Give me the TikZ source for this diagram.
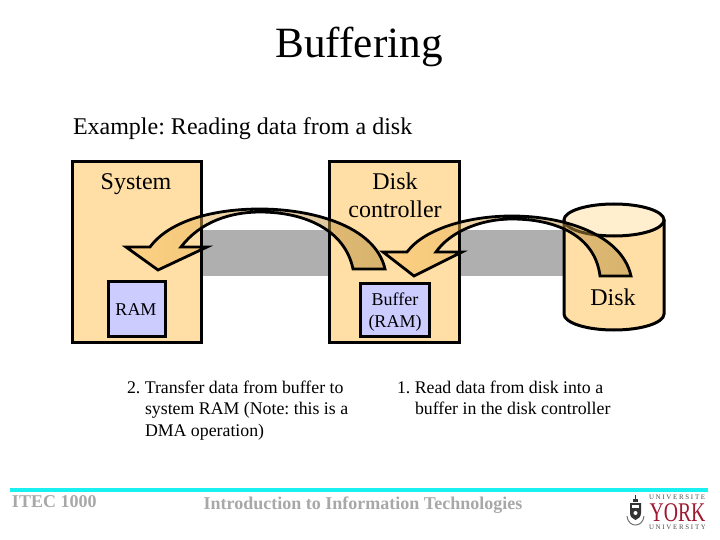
\documentclass[tikz,border=0pt]{standalone}
\usepackage{fontspec}
\setmainfont{Liberation Serif}
\frenchspacing
\definecolor{boxfill}{HTML}{FFDFA6}
\definecolor{ramfill}{HTML}{CCCCFF}
\definecolor{band}{HTML}{AFAFAF}
\definecolor{disktop}{HTML}{FFEFCF}
\definecolor{barcol}{HTML}{19F0F0}
\definecolor{foot}{HTML}{A8A8A8}
\definecolor{yorkred}{HTML}{A01830}
\definecolor{arrowL}{HTML}{FFC460}
\definecolor{arrowR}{HTML}{B08838}
\newcommand{\fs}[1]{\fontsize{#1}{#1}\selectfont}
\tikzset{
  unit/.style={draw=black,line width=3pt,fill=boxfill},
  mem/.style={draw=black,line width=3pt,fill=ramfill},
  txt/.style={inner sep=0pt,outer sep=0pt,anchor=base,font=\fs{24}},
  txtl/.style={inner sep=0pt,outer sep=0pt,anchor=base west,font=\fs{17.8}},
  small/.style={inner sep=0pt,outer sep=0pt,anchor=base,font=\fs{18}},
  footer/.style={inner sep=0pt,outer sep=0pt,anchor=base,text=foot,font=\bfseries\fs{18}},
  logotxt/.style={inner sep=0pt,outer sep=0pt,anchor=base west,font=\fs{6.9},text=black!70},
  flow/.style={draw=black,line width=2.8pt,line join=miter,left color=arrowL,right color=arrowR,fill opacity=.5},
}
\begin{document}
\begin{tikzpicture}[x=1pt,y=-1pt]
\useasboundingbox (0,0) rectangle (720,540);
\fill[white] (0,0) rectangle (720,540);
% bands
\fill[band] (202,230) rectangle (329,276);
\fill[band] (460,230) rectangle (564,276);
% units
\draw[unit] (72,161.5) rectangle (201.5,342);
\draw[unit] (329,161.5) rectangle (459.5,342);
\draw[mem] (108,281.5) rectangle (165.5,336);
\draw[mem] (360,283.5) rectangle (429.5,336);
% disk
\draw[unit] (564,220) -- (564,314) arc[start angle=180,end angle=360,x radius=50,y radius=-16] -- (664,220);
\draw[draw=black,line width=3pt,fill=disktop] (614,220) ellipse[x radius=50,y radius=16];
% texts
\node[txt,font=\fs{43.2}] (title) at (359,58) {Buffering};
\node[txt,anchor=base west] (sub) at (73,135) {Example: Reading data from a disk};
\node[txt] (sys) at (136,190) {System};
\node[txt] (dc1) at (395,190) {Disk};
\node[txt] (dc2) at (395,218) {controller};
\node[small] (ram) at (136,315) {RAM};
\node[small] (buf1) at (395,305) {Buffer};
\node[small] (buf2) at (395,327) {(RAM)};
\node[txt] (disk) at (613,305) {Disk};
\node[txtl] (c1) at (127,393) {2. Transfer data from buffer to};
\node[txtl] (c2) at (145,414) {system RAM (Note: this is a};
\node[txtl] (c3) at (145,436) {DMA operation)};
\node[txtl] (d1) at (397,393) {1. Read data from disk into a};
\node[txtl] (d2) at (415,414) {buffer in the disk controller};
% arrows
\draw[flow] (631,276) .. controls (622,235) and (565,216) .. (512,216)
  .. controls (470,216) and (425,228) .. (407,252)
  -- (383,252) -- (414,276) -- (462,252) -- (436,252)
  .. controls (450,232) and (480,219) .. (512,219)
  .. controls (555,219) and (595,235) .. (600,276) -- cycle;
\draw[flow] (385,269) .. controls (375,225) and (310,209) .. (260,209)
  .. controls (215,209) and (170,220) .. (150,247)
  -- (126,247) -- (158,270) -- (207,247) -- (181,247)
  .. controls (200,222) and (230,212) .. (260,212)
  .. controls (305,212) and (345,230) .. (353,269) -- cycle;
% footer
\fill[barcol] (10,488) rectangle (708,492);
\node[footer,anchor=base west] (f1) at (12,507) {ITEC 1000};
\node[footer] (f2) at (363,509) {Introduction to Information Technologies};
% logo
\node[logotxt] (u1) at (649,499.5) {U N I V E R S I T E};
\node[inner sep=0pt,anchor=base,font=\fs{27},text=yorkred,xscale=.73] (york) at (677.5,521) {YORK};
\node[logotxt] (u2) at (649,529) {U N I V E R S I T Y};
% crest
\fill[black!80] (630,503) -- (641,503) -- (641,513) .. controls (641,517) and (638,519) .. (635.5,520) .. controls (633,519) and (630,517) .. (630,513) -- cycle;
\fill[white] (632,505) rectangle (639,508);
\fill[white] (635.5,513) circle[radius=2];
\fill[black!80] (633,499) rectangle (638,502);
\fill[black!80] (634.8,495) rectangle (636.2,499);
\draw[black!55,line width=1pt] (627,516) .. controls (628,523) and (632,525) .. (635.5,525) .. controls (639,525) and (643,523) .. (644,516);
\end{tikzpicture}
\end{document}
